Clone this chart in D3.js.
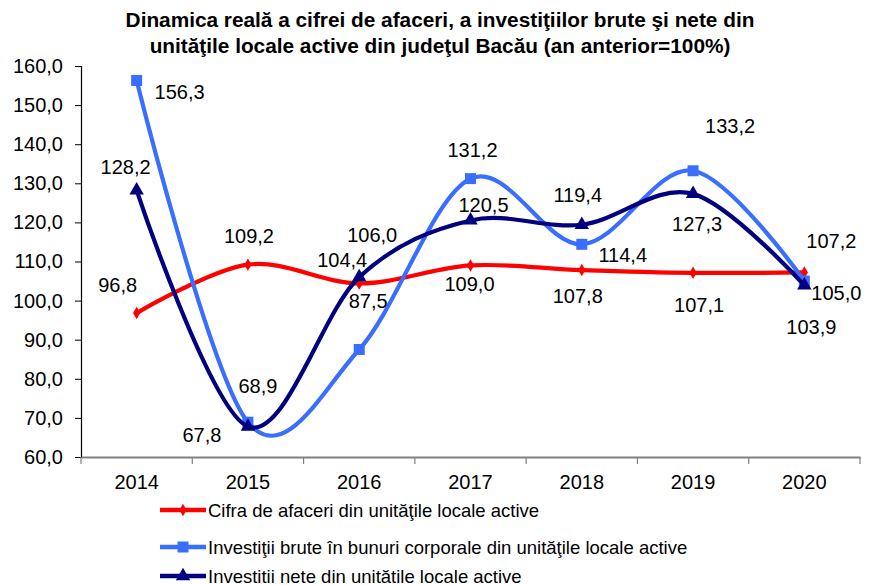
<!DOCTYPE html>
<html><head><meta charset="utf-8">
<script src="https://cdn.jsdelivr.net/npm/d3@7"></script>
<style>body{margin:0;background:#fff}svg{display:block}text{font-family:"Liberation Sans",Arial,sans-serif}</style>
</head><body><svg id="c" width="873" height="585"></svg>
<script>
const years = ["2014","2015","2016","2017","2018","2019","2020"];
const cifra = [96.8,109.2,104.4,109.0,107.8,107.1,107.2];
const brute = [156.3,68.9,87.5,131.2,114.4,133.2,105.0];
const nete = [128.2,67.8,106.0,120.5,119.4,127.3,103.9];
const yTicks = [60,70,80,90,100,110,120,130,140,150,160];
const seriesNames = ["Cifra de afaceri din unităţile locale active","Investiţii brute în bunuri corporale din unităţile locale active","Investitii nete din unitătile locale active"];
const titleLines = ["Dinamica reală a cifrei de afaceri, a investiţiilor brute şi nete din","unităţile locale active din judeţul Bacău (an anterior=100%)"];
// label placement per point (dx, dy relative to point)
const placeCifra = [[-19,-28],[1,-29],[-17,-23],[-1,19],[-4,26],[6,32],[27,-31]];
const placeBrute = [[43,12],[10,-36],[9,-48],[2,-29],[41,11],[37,-45],[32,12]];
const placeNete = [[-11,-23],[-46,8],[13,-42],[13,-15],[-4,-30],[4,30],[7,42]];

const FS = 20;
const svg = d3.select("#c");
const x = d3.scaleBand().domain(years).range([81,860]);
const y = d3.scaleLinear().domain([60,160]).range([457,66]);

svg.append("g").selectAll("text").data(titleLines).join("text")
  .attr("x",440).attr("y",(d,i)=>27+i*26).attr("text-anchor","middle")
  .attr("font-size",20.8).attr("font-weight","bold").text(d=>d);

// y axis
const ya = svg.append("g").attr("transform","translate(81,0)")
  .call(d3.axisLeft(y).tickValues(yTicks).tickSize(6).tickPadding(12).tickFormat(d=>d3.format(".1f")(d).replace(".",",")));
ya.select(".domain").attr("stroke","#000").attr("stroke-width",1.2);
ya.selectAll(".tick line").attr("stroke","#000");
ya.selectAll("text").attr("font-size",FS).attr("fill","#000").style("font-family","'Liberation Sans',Arial,sans-serif");

// x axis
const xa = svg.append("g").attr("transform","translate(0,457)")
  .call(d3.axisBottom(x).tickSize(0).tickPadding(18));
xa.select(".domain").attr("stroke","#808080").attr("stroke-width",2);
xa.selectAll("text").attr("font-size",FS).attr("fill","#000").style("font-family","'Liberation Sans',Arial,sans-serif");
const bounds = years.map(d=>x(d)).concat([x(years[years.length-1])+x.bandwidth()]);
svg.append("g").selectAll("line").data(bounds).join("line")
  .attr("x1",d=>d).attr("x2",d=>d).attr("y1",457).attr("y2",464).attr("stroke","#808080").attr("stroke-width",1.2);

const cx = d=>x(d)+x.bandwidth()/2;
const line = d3.line().x((d,i)=>cx(years[i])).y(d=>y(d)).curve(d3.curveCardinal.tension(0));

const series = [
  {vals:cifra,color:"#FF0000",marker:"diamond",place:placeCifra},
  {vals:brute,color:"#3A6EFF",marker:"square",place:placeBrute},
  {vals:nete,color:"#000080",marker:"triangle",place:placeNete}
];
function marker(g,type,color,px,py){
  if(type==="diamond") g.append("path").attr("d",d3.symbol(d3.symbolDiamond,45)()).attr("transform",`translate(${px},${py})`).attr("fill",color);
  else if(type==="square") g.append("rect").attr("x",px-5.5).attr("y",py-5.5).attr("width",11).attr("height",11).attr("fill",color);
  else g.append("path").attr("d",d3.symbol(d3.symbolTriangle,90)()).attr("transform",`translate(${px},${py})`).attr("fill",color);
}
const plot = svg.append("g");
series.forEach(s=>{
  plot.append("path").attr("d",line(s.vals)).attr("fill","none").attr("stroke",s.color).attr("stroke-width",4.2);
  s.vals.forEach((v,i)=>marker(plot,s.marker,s.color,cx(years[i]),y(v)));
});
const labs = svg.append("g");
series.forEach(s=>{
  s.vals.forEach((v,i)=>{
    labs.append("text").attr("x",cx(years[i])+s.place[i][0]).attr("y",y(v)+s.place[i][1])
      .attr("text-anchor","middle").attr("dominant-baseline","central").attr("font-size",FS).attr("fill","#000")
      .text(d3.format(".1f")(v).replace(".",","));
  });
});

// legend
const lg = svg.append("g");
series.forEach((s,i)=>{
  const ly = [510,547,576][i];
  lg.append("line").attr("x1",160).attr("x2",206).attr("y1",ly).attr("y2",ly).attr("stroke",s.color).attr("stroke-width",4.5);
  marker(lg,s.marker,s.color,183,ly);
  lg.append("text").attr("x",208).attr("y",ly).attr("dominant-baseline","central").attr("font-size",18.5).attr("fill","#000").text(seriesNames[i]);
});
</script></body></html>
